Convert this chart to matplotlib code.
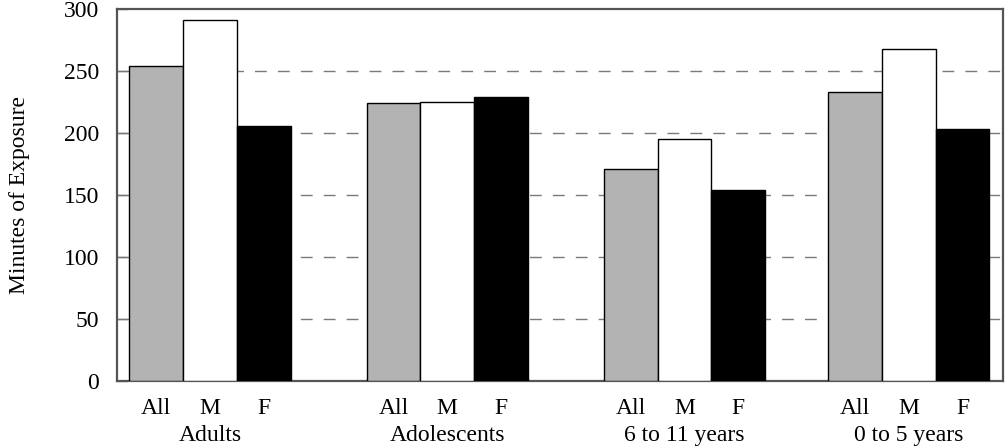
import numpy as np
import matplotlib
matplotlib.use("Agg")
import matplotlib.pyplot as plt

plt.rcParams['font.family'] = ['Liberation Serif', 'DejaVu Serif']

groups = ['Adults', 'Adolescents', '6 to 11 years', '0 to 5 years']
subgroups = ['All', 'M', 'F']
all_vals = [254, 224, 171, 233]
male_vals = [291, 225, 195, 268]
female_vals = [206, 229, 154, 203]
yticks = [0, 50, 100, 150, 200, 250, 300]

fig = plt.figure(figsize=(10.05, 4.48), dpi=100)
ax = fig.add_axes([0.1164, 0.1496, 0.8816, 0.8304])

# group centres (last group sits a bit closer in the original)
centers = np.array([0.0, 1.0, 2.0, 2.945])
w = 0.2266

series = [(all_vals, '#b3b3b3'), (male_vals, 'white'), (female_vals, 'black')]
for i, (vals, col) in enumerate(series):
    ax.bar(centers + (i - 1) * w, vals, width=w, color=col,
           edgecolor='black', linewidth=1.0, zorder=3)

ax.set_xlim(centers[0] - 0.392, centers[-1] + 0.397)
ax.set_ylim(0, 300)
ax.set_yticks(yticks)
for y in yticks[1:-1]:
    ax.axhline(y, color='#7a7a7a', linewidth=1.0, linestyle=(0, (8.5, 8)), zorder=1)

xt = np.concatenate([centers + (i - 1) * w for i in range(3)])
xl = [s for s in subgroups for _ in centers]
ax.set_xticks(xt)
ax.set_xticklabels(xl)
ax.tick_params(axis='x', length=0, pad=12, labelsize=17)
ax.tick_params(axis='y', direction='in', length=7, width=1, color='#777777',
               pad=13, labelsize=17)

for c, g in zip(centers, groups):
    ax.annotate(g, xy=(c, 0), xycoords=('data', 'axes fraction'),
                xytext=(0, -43.5), textcoords='offset points',
                ha='center', va='baseline', fontsize=17)

ax.set_ylabel('Minutes of Exposure', fontsize=17, labelpad=24)
for s in ax.spines.values():
    s.set_color('#555555')
    s.set_linewidth(1.6)

fig.savefig('out.png', dpi=100)
